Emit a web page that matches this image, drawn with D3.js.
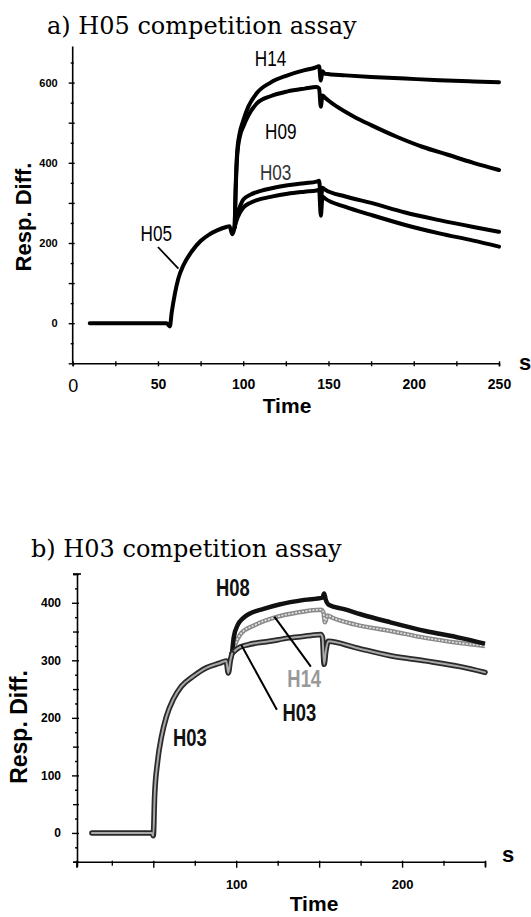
<!DOCTYPE html>
<html>
<head>
<meta charset="utf-8">
<script src="https://cdn.jsdelivr.net/npm/d3@7"></script>
<style>
  body { margin: 0; background: #fff; }
  svg { display: block; }
</style>
</head>
<body>
<div id="chart"></div>
<script>
// panel a: H05 competition assay, points are [time (s), resp. diff.]
const aH05 = [[10,0],[20,0],[30,0],[40,0],[50,0],[55,0],[57,-8],[58,25],[60,75],[62,112],[65,145],[70,180],[75,205],[80,221],[85,232],[90,240],[92,242],[93.5,222],[95,240]];
const aH14 = [[95,240],[95.5,330],[96.5,430],[98,475],[100,505],[103,540],[108,574],[116,600],[126,618],[136,631],[142,637],[144.5,641],[145.5,605],[146.5,628],[148,622],[160,618],[175,614],[195,610],[215,606],[235,603],[250,601]];
const aH09 = [[95,240],[95.5,320],[96.5,420],[98,465],[100,490],[103,518],[108,548],[116,566],[126,578],[136,585],[143,589],[144.5,585],[145.5,540],[146.5,568],[148,562],[155,540],[165,515],[175,494],[190,465],[205,440],[220,420],[235,400],[250,382]];
const aH03 = [[95,240],[96,265],[98,290],[100,308],[104,320],[108,327],[116,336],[126,344],[136,349],[143,353],[144.5,355],[145.5,310],[146.5,338],[148,333],[160,316],[175,300],[195,276],[215,257],[235,240],[250,228]];
const aSelf = [[95,240],[96,255],[98,275],[100,288],[104,300],[108,307],[116,315],[126,323],[136,328],[143,331],[144.5,333],[145.5,268],[146.5,316],[148,311],[160,290],[175,270],[195,245],[215,224],[235,206],[250,191]];
const aLabels = [
  { text: "H14", t: 116, v: 642 },
  { text: "H09", t: 122, v: 459 },
  { text: "H03", t: 119, v: 357 },
  { text: "H05", t: 49, v: 206 }
];
const aLeaders = [[[50, 190], [62, 136]]];
const aXTicks = d3.range(0, 251, 25);
const aYTicks = d3.range(-100, 651, 50);

// panel b: H03 competition assay
const bH03 = [[13,0],[20,0],[30,0],[40,0],[49,0],[50,-5],[50.8,64],[52.5,122],[55,168],[58,203],[62,232],[67,255],[74,272],[82,287],[90,295],[94,299],[95.2,278],[96.5,300],[97.5,312]];
const bH08 = [[97.5,312],[98.5,340],[101,362],[104,373],[108,381],[116,389],[126,397],[141,405],[152,409],[153,416],[154,405],[156,396],[165,389],[175,380],[193,366],[214,351],[235,339],[250,329]];
const bH14 = [[97.5,312],[99,325],[103,347],[111,361],[124,375],[137,383],[151,388],[152.5,384],[153.5,366],[155,378],[158,374],[172,362],[193,351],[214,339],[235,330],[250,325]];
const bH03b = [[97.5,312],[101,321],[107,327],[120,333],[132,339],[145,343],[151,345],[152,340],[153,293],[154,315],[155.5,333],[172,322],[193,308],[214,299],[235,289],[250,279]];
const bLabels = [
  { text: "H08", t: 98, v: 411, fill: "#111" },
  { text: "H14", t: 141, v: 254, fill: "#999" },
  { text: "H03", t: 138, v: 194, fill: "#111" },
  { text: "H03", t: 72, v: 151, fill: "#111" }
];
const bLeaders = [[[123, 376], [145, 289]], [[103, 327], [124.5, 214]]];
const bXTicks = d3.range(25, 251, 25);
const bYTicks = d3.range(-50, 451, 25);

const sans = "'Liberation Sans', Arial, sans-serif";
const serif = "'DejaVu Serif', 'Liberation Serif', serif";

const svg = d3.select("#chart")
  .append("svg")
    .attr("width", 531)
    .attr("height", 917);

// ---------- panel a ----------
const xa = d3.scaleLinear().domain([0, 250]).range([72.7, 499]);
const ya = d3.scaleLinear().domain([-100, 690]).range([363.3, 46.5]);
const lineA = d3.line().x(d => xa(d[0])).y(d => ya(d[1])).curve(d3.curveMonotoneX);

svg.append("text")
  .attr("x", 47).attr("y", 34)
  .text("a) H05 competition assay")
  .style("font-family", serif).style("font-size", "24px");

// x-axis
const gxa = svg.append("g")
  .attr("transform", `translate(0,${ya(-100)})`)
  .call(d3.axisBottom(xa).tickValues(aXTicks).tickSizeOuter(0).tickSize(3).tickPadding(13)
    .tickFormat(d => d % 50 === 0 ? d : ""));
gxa.selectAll(".tick line").attr("y1", -2).attr("y2", 3).attr("stroke-width", 1.4);
gxa.selectAll(".tick text").style("font-family", sans).style("font-size", "14px").style("font-weight", "bold");
gxa.selectAll(".tick text").filter(d => d === 0).style("font-size", "18px").style("font-weight", "normal");
gxa.select(".domain").attr("stroke-width", 1.6);

// y-axis
const gya = svg.append("g")
  .attr("transform", `translate(${xa(0)},0)`)
  .call(d3.axisLeft(ya).tickValues(aYTicks).tickSizeOuter(0).tickSize(4).tickPadding(11)
    .tickFormat(d => d % 200 === 0 ? d : ""));
gya.selectAll(".tick line")
  .attr("x1", d => d % 100 === 0 ? 2 : 1)
  .attr("x2", d => d % 100 === 0 ? -4 : -2)
  .attr("stroke-width", 1.4);
gya.selectAll(".tick text").style("font-family", sans).style("font-size", "11px").style("font-weight", "bold");
gya.select(".domain").attr("stroke-width", 1.6);
gya.select(".domain").attr("d", `M0,${ya(690)}V${ya(-100)}`);

svg.append("text")
  .attr("transform", `translate(31,${217}) rotate(-90)`)
  .attr("text-anchor", "middle")
  .text("Resp. Diff.")
  .style("font-family", sans).style("font-size", "22px").style("font-weight", "bold");

svg.append("text")
  .attr("x", 287).attr("y", 413)
  .attr("text-anchor", "middle")
  .text("Time")
  .style("font-family", sans).style("font-size", "21px").style("font-weight", "bold");

svg.append("text")
  .attr("x", 525).attr("y", 370)
  .attr("text-anchor", "middle")
  .text("s")
  .style("font-family", sans).style("font-size", "22px").style("font-weight", "bold");

// curves of panel a
[aSelf, aH03, aH09, aH14, aH05].forEach(s => {
  svg.append("path")
    .datum(s)
    .attr("fill", "none")
    .attr("stroke", "#000")
    .attr("stroke-width", 4)
    .attr("stroke-linejoin", "round")
    .attr("stroke-linecap", "round")
    .attr("d", lineA);
});

aLeaders.forEach(l => {
  svg.append("line")
    .attr("x1", xa(l[0][0])).attr("y1", ya(l[0][1]))
    .attr("x2", xa(l[1][0])).attr("y2", ya(l[1][1]))
    .attr("stroke", "#000").attr("stroke-width", 1.8);
});

// condensed curve labels (squeezed horizontally)
svg.selectAll(".labelA")
  .data(aLabels)
  .join("text")
    .attr("class", "labelA")
    .attr("transform", d => `translate(${xa(d.t)},${ya(d.v)}) scale(0.78,1)`)
    .attr("text-anchor", "middle")
    .text(d => d.text)
    .style("font-family", sans).style("font-size", "22px")
    .style("fill", d => d.text === "H03" ? "#333" : "#000");

// ---------- panel b ----------
const xb = d3.scaleLinear().domain([4, 250]).range([77, 485]);
const yb = d3.scaleLinear().domain([-50, 450]).range([861.7, 574]);
const lineB = d3.line().x(d => xb(d[0])).y(d => yb(d[1])).curve(d3.curveMonotoneX);

svg.append("text")
  .attr("x", 31).attr("y", 557)
  .text("b) H03 competition assay")
  .style("font-family", serif).style("font-size", "24px");

const gxb = svg.append("g")
  .attr("transform", `translate(0,${yb(-50)})`)
  .call(d3.axisBottom(xb).tickValues(bXTicks).tickSizeOuter(0).tickSize(5).tickPadding(13)
    .tickFormat(d => d % 100 === 0 ? d : ""));
gxb.selectAll(".tick line")
  .attr("y1", -1)
  .attr("y2", d => d % 50 === 0 ? 6 : 4)
  .attr("stroke-width", 1.4);
gxb.selectAll(".tick text").style("font-family", sans).style("font-size", "13px").style("font-weight", "bold");
gxb.select(".domain").attr("stroke-width", 1.6);
// end tick at the origin
gxb.append("line").attr("x1", xb(4)).attr("x2", xb(4)).attr("y1", -1).attr("y2", 6)
  .attr("stroke", "#000").attr("stroke-width", 1.8);

const gyb = svg.append("g")
  .attr("transform", `translate(${xb(4)},0)`)
  .call(d3.axisLeft(yb).tickValues(bYTicks).tickSizeOuter(0).tickSize(4).tickPadding(12)
    .tickFormat(d => d % 100 === 0 ? d : ""));
gyb.selectAll(".tick line")
  .attr("x1", d => d % 50 === 0 ? 2 : 1)
  .attr("x2", d => d % 100 === 0 ? -5 : (d % 50 === 0 ? -4 : -2))
  .attr("stroke-width", 1.4);
gyb.selectAll(".tick text").style("font-family", sans).style("font-size", "12px").style("font-weight", "bold");
gyb.select(".domain").attr("stroke-width", 1.6);
gyb.append("line").attr("x1", -4).attr("x2", 4).attr("y1", yb(450)).attr("y2", yb(450))
  .attr("stroke", "#000").attr("stroke-width", 1.6);

svg.append("text")
  .attr("transform", `translate(27,${727}) rotate(-90)`)
  .attr("text-anchor", "middle")
  .text("Resp. Diff.")
  .style("font-family", sans).style("font-size", "23px").style("font-weight", "bold");

svg.append("text")
  .attr("x", 314).attr("y", 911)
  .attr("text-anchor", "middle")
  .text("Time")
  .style("font-family", sans).style("font-size", "21px").style("font-weight", "bold");

svg.append("text")
  .attr("x", 508).attr("y", 862)
  .attr("text-anchor", "middle")
  .text("s")
  .style("font-family", sans).style("font-size", "22px").style("font-weight", "bold");

// light grey H14 curve with a hatched look
svg.append("path").datum(bH14)
  .attr("fill", "none").attr("stroke", "#8a8a8a").attr("stroke-width", 4.5)
  .attr("stroke-linejoin", "round").attr("d", lineB);
svg.append("path").datum(bH14)
  .attr("fill", "none").attr("stroke", "#e6e6e6").attr("stroke-width", 1.6)
  .attr("stroke-dasharray", "2,1.5").attr("d", lineB);

// black H08 curve
svg.append("path").datum(bH08)
  .attr("fill", "none").attr("stroke", "#111").attr("stroke-width", 4.5)
  .attr("stroke-linejoin", "round").attr("d", lineB);

// grey outlined H03 curves
[bH03b, bH03].forEach(s => {
  svg.append("path").datum(s)
    .attr("fill", "none").attr("stroke", "#2a2a2a").attr("stroke-width", 5.5)
    .attr("stroke-linejoin", "round").attr("stroke-linecap", "round").attr("d", lineB);
  svg.append("path").datum(s)
    .attr("fill", "none").attr("stroke", "#a8a8a8").attr("stroke-width", 2)
    .attr("stroke-linejoin", "round").attr("stroke-linecap", "round").attr("d", lineB);
});

bLeaders.forEach(l => {
  svg.append("line")
    .attr("x1", xb(l[0][0])).attr("y1", yb(l[0][1]))
    .attr("x2", xb(l[1][0])).attr("y2", yb(l[1][1]))
    .attr("stroke", "#000").attr("stroke-width", 2);
});

svg.selectAll(".labelB")
  .data(bLabels)
  .join("text")
    .attr("class", "labelB")
    .attr("transform", d => `translate(${xb(d.t)},${yb(d.v)}) scale(0.8,1)`)
    .attr("text-anchor", "middle")
    .text(d => d.text)
    .style("font-family", sans).style("font-size", "23px").style("font-weight", "bold")
    .style("fill", d => d.fill);
</script>
</body>
</html>
